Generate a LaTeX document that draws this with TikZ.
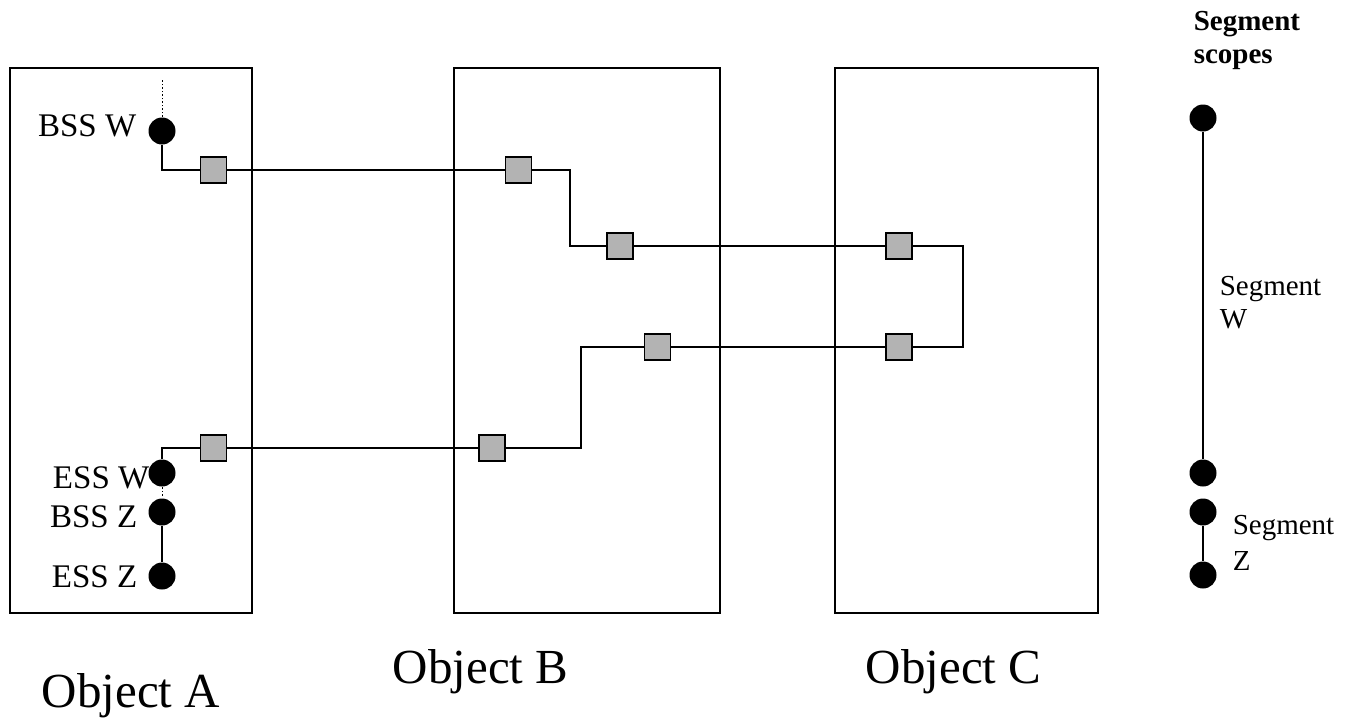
\documentclass[tikz,border=0pt]{standalone}
\usepackage{fontspec}
\setmainfont{Liberation Serif}
\definecolor{sqgray}{HTML}{B3B3B3}
\begin{document}
\begin{tikzpicture}[x=1pt,y=-1pt,
  every path/.style={line width=1.5pt},
  objbox/.style={draw,line width=1.6pt,inner sep=0pt},
  sq/.style={draw,fill=sqgray,minimum size=26pt,inner sep=0pt,line width=1.6pt},
  dot/.style={circle,fill=black,minimum size=27pt,inner sep=0pt},
  lbl/.style={inner sep=0pt,font=\fontsize{33}{40}\selectfont},
  seglbl/.style={inner sep=0pt,align=left,font=\fontsize{29}{33}\selectfont},
  objlbl/.style={inner sep=0pt,font=\fontsize{49}{58}\selectfont}]
\useasboundingbox (0,0) rectangle (1345,718);
% object boxes
\node[objbox,minimum width=242pt,minimum height=545pt] (A) at (131,340.5) {};
\node[objbox,minimum width=266pt,minimum height=545pt] (B) at (587,340.5) {};
\node[objbox,minimum width=263pt,minimum height=545pt] (C) at (966.5,340.5) {};
% dots in A
\node[dot] (bssw) at (162,131) {};
\node[dot] (essw) at (162,473) {};
\node[dot] (bssz) at (162,512) {};
\node[dot] (essz) at (162,576) {};
% squares
\node[sq] (a1) at (213.5,170) {};
\node[sq] (b1) at (518.5,170) {};
\node[sq] (b2) at (620,246) {};
\node[sq] (c1) at (899,246) {};
\node[sq] (c2) at (899,347) {};
\node[sq] (b3) at (657.5,347) {};
\node[sq] (b4) at (492,448) {};
\node[sq] (a2) at (213.5,448) {};
% path
\draw (bssw.south) |- (a1.west);
\draw (a1.east) -- (b1.west);
\draw (b1.east) -- ++(37.5,0) |- (b2.west);
\draw (b2.east) -- (c1.west);
\draw (c1.east) -- ++(50,0) |- (c2.east);
\draw (c2.west) -- (b3.east);
\draw (b3.west) -- ++(-62.5,0) |- (b4.east);
\draw (b4.west) -- (a2.east);
\draw (a2.west) -| (essw.north);
\draw[dotted,line width=1pt] (bssw.north) -- ++(0,-38);
\draw[dotted,line width=1pt] (essw.south) -- (bssz.north);
\draw (bssz.south) -- (essz.north);
% labels in A
\node[lbl,anchor=base east] (lbssw) at (137,136) {BSS W};
\node[lbl,anchor=base east] (lessw) at (150,488) {ESS W};
\node[lbl,anchor=base east] (lbssz) at (138,527) {BSS Z};
\node[lbl,anchor=base east] (lessz) at (138,587) {ESS Z};
% segment scopes
\node[dot] (r1) at (1203,118) {};
\node[dot] (r2) at (1203,473) {};
\node[dot] (r3) at (1203,512) {};
\node[dot] (r4) at (1203,575) {};
\draw (r1) -- (r2);
\draw (r3) -- (r4);
\node[seglbl,anchor=base west,font=\fontsize{29}{33}\selectfont\bfseries] (title) at (1193,63) {Segment\\scopes};
\node[seglbl,anchor=base west] (segw) at (1219,328) {Segment\\W};
\node[seglbl,anchor=base west,font=\fontsize{29}{36}\selectfont] (segz) at (1232,570) {Segment\\Z};
% object labels
\node[objlbl,anchor=base west] (la) at (41,707) {Object A};
\node[objlbl,anchor=base west] (lb) at (392,683) {Object B};
\node[objlbl,anchor=base west] (lc) at (865,683) {Object C};
\end{tikzpicture}
\end{document}
